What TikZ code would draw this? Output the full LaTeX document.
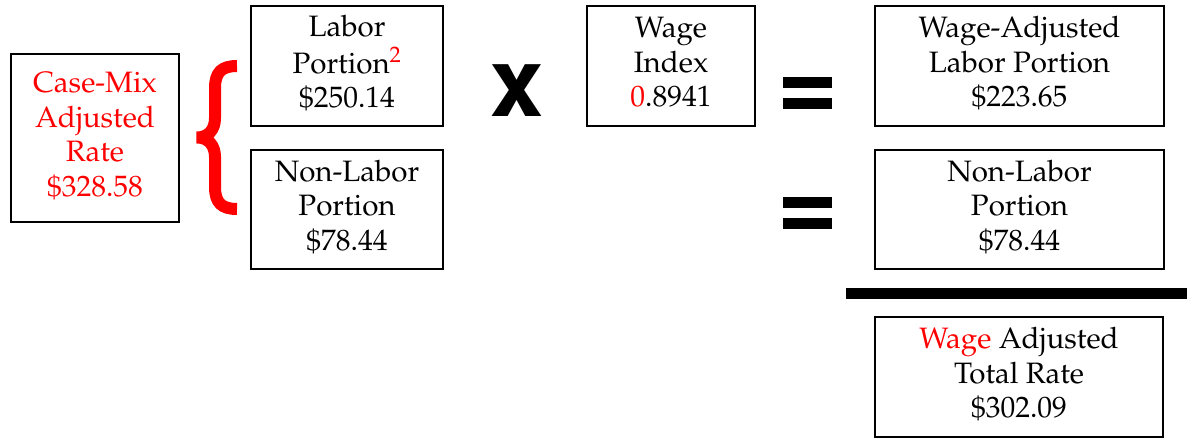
\documentclass[tikz,border=0pt]{standalone}
\usepackage[T1]{fontenc}
\usepackage{mathpazo}
\newcommand{\boxlines}[1]{\raisebox{0.5pt}[\height][\depth]{\begin{tabular}{@{}c@{}}#1\end{tabular}}}
\begin{document}
\begin{tikzpicture}[x=1pt,y=-1pt,
  box/.style={draw=black, line width=2pt, rectangle, inner sep=0pt,
    font=\fontsize{29.5}{34.5}\selectfont},
  bar/.style={fill=black},
  bigop/.style={inner sep=0pt, anchor=base, font=\fontfamily{phv}\bfseries\fontsize{96}{96}\selectfont}]
\useasboundingbox (0,0) rectangle (1187,438);
\node[box, minimum width=168pt, minimum height=168pt, text=red] (cmi) at (95,138)
  {\boxlines{Case-Mix\\Adjusted\\Rate\\\$328.58}};
\draw[red, line width=12pt, line join=miter]
  (237,66) .. controls (222,66) and (215,72) .. (215,88) -- (215,118)
  .. controls (215,130) and (208,137.5) .. (197,137.5)
  .. controls (208,137.5) and (215,145) .. (215,157) -- (215,187)
  .. controls (215,203) and (222,209) .. (237,209);
\node[box, minimum width=192pt, minimum height=120pt] (labor) at (347,66)
  {\boxlines{Labor\\Portion\textsuperscript{\color{red}2}\\\$250.14}};
\node[box, minimum width=192pt, minimum height=119pt] (nonlabor) at (347,209.5)
  {\boxlines{Non-Labor\\Portion\\\$78.44}};
\node[bigop] (times) at (517.5,117) {x};
\node[box, minimum width=168pt, minimum height=120pt] (wi) at (671,66)
  {\boxlines{Wage\\Index\\{\color{red}0}.8941}};
\fill[bar] (783,77) rectangle (832,88);
\fill[bar] (783,98) rectangle (832,109);
\fill[bar] (783,197) rectangle (832,208);
\fill[bar] (783,218) rectangle (832,229);
\node[box, minimum width=289pt, minimum height=120pt] (wal) at (1019.5,66)
  {\boxlines{Wage-Adjusted\\Labor Portion\\\$223.65}};
\node[box, minimum width=289pt, minimum height=119pt] (nonlabor2) at (1019.5,209.5)
  {\boxlines{Non-Labor\\Portion\\\$78.44}};
\fill[bar] (846,288) rectangle (1187,299);
\node[box, minimum width=288pt, minimum height=120pt] (total) at (1019,377)
  {\boxlines{{\color{red}Wage} Adjusted\\Total Rate\\\$302.09}};
\end{tikzpicture}
\end{document}
